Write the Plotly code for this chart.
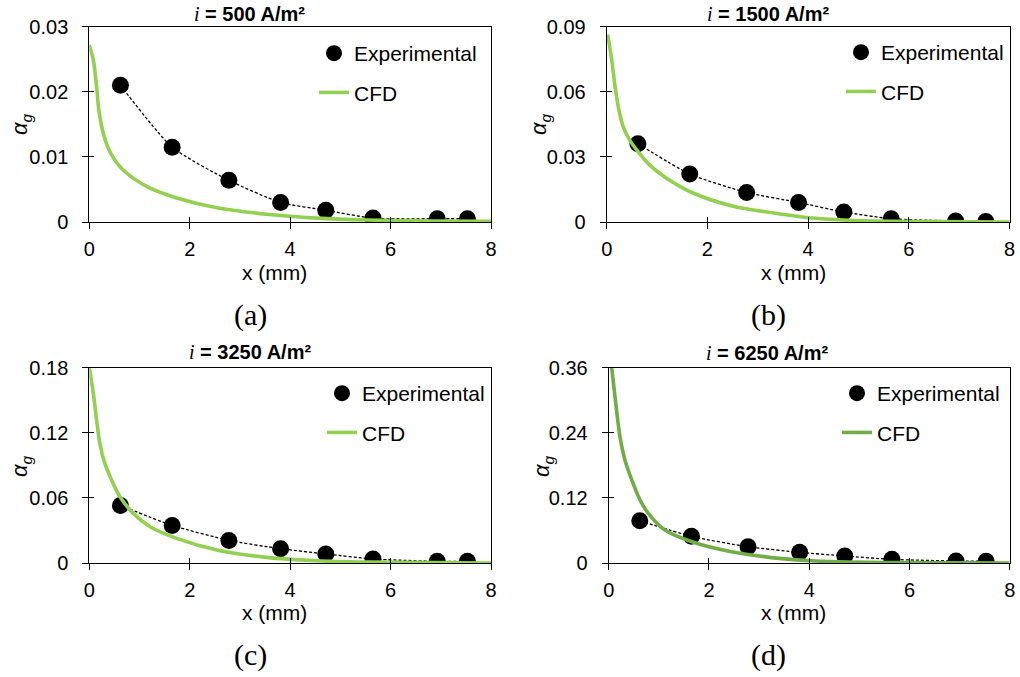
import plotly.graph_objects as go

W, H = 1020, 677

# ---------------- data ----------------
titles = ["500", "1500", "3250", "6250"]
panel_labels = ["(a)", "(b)", "(c)", "(d)"]

x_exp = [0.62, 1.65, 2.78, 3.81, 4.71, 5.65, 6.93, 7.53]
exp_a = [0.0210, 0.0115, 0.0064, 0.0030, 0.0018, 0.0006, 0.0005, 0.0005]
exp_b = [0.0361, 0.0221, 0.0136, 0.0090, 0.0046, 0.0015, 0.0005, 0.0002]
exp_c = [0.0530, 0.0346, 0.0208, 0.0132, 0.0083, 0.0037, 0.0015, 0.0015]
exp_d = [0.0779, 0.0491, 0.0300, 0.0196, 0.0129, 0.0067, 0.0037, 0.0031]

x_cfd_a = [0.0, 0.08, 0.146, 0.19, 0.28, 0.41, 0.61, 0.88, 1.21, 1.74, 2.54, 3.53, 4.53, 5.52, 6.85, 8.0]
cfd_a = [0.0272, 0.0249, 0.0208, 0.0172, 0.0136, 0.0108, 0.0085, 0.0067, 0.0052, 0.0037, 0.0022, 0.0012, 0.0006, 0.0003, 0.00015, 0.0001]

x_cfd_b = [0.02, 0.10, 0.166, 0.23, 0.33, 0.46, 0.63, 0.83, 1.16, 1.69, 2.49, 3.48, 4.14, 4.80, 5.80, 8.0]
cfd_b = [0.0864, 0.0748, 0.0624, 0.0531, 0.0438, 0.0376, 0.0322, 0.0268, 0.0206, 0.0136, 0.0074, 0.0036, 0.0017, 0.0008, 0.0003, 0.0]

x_cfd_c = [0.0, 0.08, 0.146, 0.21, 0.31, 0.445, 0.61, 0.876, 1.21, 1.74, 2.54, 3.53, 4.53, 5.52, 6.85, 8.0]
cfd_c = [0.180, 0.156, 0.1315, 0.110, 0.0917, 0.0763, 0.061, 0.0457, 0.0334, 0.0227, 0.0120, 0.0052, 0.0021, 0.0009, 0.0003, 0.0]

x_cfd_d = [0.0, 0.03, 0.06, 0.126, 0.226, 0.326, 0.46, 0.625, 0.79, 1.12, 1.66, 2.45, 3.45, 4.12, 4.78, 6.10, 8.0]
cfd_d = [0.42, 0.39, 0.360, 0.306, 0.232, 0.189, 0.153, 0.116, 0.0914, 0.0607, 0.0392, 0.0208, 0.0080, 0.0037, 0.0018, 0.0006, 0.0]

y_max = [0.03, 0.09, 0.18, 0.36]
y_dtick = [0.01, 0.03, 0.06, 0.12]

exp_all = [exp_a, exp_b, exp_c, exp_d]
cfd_x_all = [x_cfd_a, x_cfd_b, x_cfd_c, x_cfd_d]
cfd_all = [cfd_a, cfd_b, cfd_c, cfd_d]
cfd_colors = ["#92D050", "#92D050", "#92D050", "#70AD47"]

# ---------------- layout geometry (pixels) ----------------
x_dom_px = [(89.3, 491.0), (606.7, 1009.5), (89.3, 491.0), (608.7, 1009.7)]
y_dom_px = [(26.7, 222.0), (26.7, 222.0), (367.5, 563.0), (367.5, 563.0)]
title_pos = [(249, 14), (768, 14), (250, 352), (767, 353)]
xlab_pos = [(274, 272), (793, 272), (274, 612), (793, 612)]
ylab_pos = [(21, 124), (540, 124), (21, 466), (543, 466)]
plab_pos = [(250, 315), (768, 315), (250, 655), (768, 655)]
legend_pos = [(314, 33), (841, 32), (322, 373), (837, 373)]


def px_x(v):
    return v / W


def px_y(v):
    return 1 - v / H


fig = go.Figure()
annotations = []
layout = dict(
    width=W, height=H,
    margin=dict(l=0, r=0, t=0, b=0, autoexpand=False),
    paper_bgcolor="white", plot_bgcolor="white",
    font=dict(family="Liberation Sans, Arial, sans-serif", size=20, color="black"),
)

for i in range(4):
    n = i + 1
    xs = "" if n == 1 else str(n)
    xname = "x" + xs
    yname = "y" + xs
    leg = "legend" + ("" if n == 1 else str(n))
    ox = str(n + 4)

    # dashed smooth connector through experimental points
    fig.add_trace(go.Scatter(
        x=x_exp, y=exp_all[i], mode="lines",
        line=dict(color="black", width=1.3, dash="3px,2px", shape="spline", smoothing=0.6),
        showlegend=False, xaxis=xname, yaxis=yname, hoverinfo="skip"))
    fig.add_trace(go.Scatter(
        x=x_exp, y=exp_all[i], mode="markers", name="Experimental",
        marker=dict(color="black", size=17, line=dict(width=0)),
        xaxis=xname, yaxis=yname, legend=leg, legendgroup="exp" + xs))
    fig.add_trace(go.Scatter(
        x=cfd_x_all[i], y=cfd_all[i], mode="lines", name="CFD",
        line=dict(color=cfd_colors[i], width=3.6, shape="spline", smoothing=0.8),
        xaxis=xname, yaxis=yname, legend=leg, legendgroup="cfd" + xs,
        cliponaxis=True))
    # empty trace so the overlay (inner-tick) axes get drawn
    fig.add_trace(go.Scatter(
        x=[None], y=[None], mode="markers", showlegend=False, hoverinfo="skip",
        xaxis="x" + ox, yaxis="y" + ox))

    xd = [px_x(x_dom_px[i][0]), px_x(x_dom_px[i][1])]
    yd = [px_y(y_dom_px[i][1]), px_y(y_dom_px[i][0])]

    layout["xaxis" + xs] = dict(
        domain=xd, anchor=yname, range=[0, 8], dtick=2, tick0=0, automargin=False,
        showgrid=False, zeroline=False, showline=True, linecolor="black", linewidth=1,
        mirror=True, ticks="outside", ticklen=6, tickcolor="black", tickwidth=1,
        tickfont=dict(size=20), ticklabelstandoff=3, fixedrange=True)
    layout["yaxis" + xs] = dict(
        domain=yd, anchor=xname, range=[0, y_max[i]], dtick=y_dtick[i], tick0=0, automargin=False,
        showgrid=False, zeroline=False, showline=True, linecolor="black", linewidth=1,
        mirror=True, ticks="outside", ticklen=6, tickcolor="black", tickwidth=1,
        tickfont=dict(size=20), ticklabelstandoff=10, fixedrange=True)
    # overlay axes giving the inner half of the crossing ticks
    layout["xaxis" + ox] = dict(
        domain=xd, anchor="y" + ox, overlaying=xname, range=[0, 8], dtick=2, tick0=0, automargin=False,
        showgrid=False, zeroline=False, showline=False, showticklabels=False,
        ticks="inside", ticklen=5, tickcolor="black", tickwidth=1, side="bottom", fixedrange=True)
    layout["yaxis" + ox] = dict(
        domain=yd, anchor="x" + ox, overlaying=yname, range=[0, y_max[i]], dtick=y_dtick[i], tick0=0,
        automargin=False,
        showgrid=False, zeroline=False, showline=False, showticklabels=False,
        ticks="inside", ticklen=5, tickcolor="black", tickwidth=1, side="left", fixedrange=True)

    layout[leg] = dict(
        x=px_x(legend_pos[i][0]), y=px_y(legend_pos[i][1]), xanchor="left", yanchor="top",
        bgcolor="rgba(0,0,0,0)", borderwidth=0, font=dict(size=21),
        traceorder="grouped", tracegroupgap=9, itemwidth=30)

    annotations.append(dict(
        x=px_x(title_pos[i][0]), y=px_y(title_pos[i][1]), xref="paper", yref="paper",
        text="<span style='font-family:Liberation Serif'><i>i</i></span><b> = " + titles[i] + " A/m²</b>",
        showarrow=False, font=dict(size=20), xanchor="center", yanchor="middle"))
    annotations.append(dict(
        x=px_x(xlab_pos[i][0]), y=px_y(xlab_pos[i][1]), xref="paper", yref="paper",
        text="x (mm)", showarrow=False, font=dict(size=21), xanchor="center", yanchor="middle"))
    annotations.append(dict(
        x=px_x(ylab_pos[i][0]), y=px_y(ylab_pos[i][1]), xref="paper", yref="paper",
        text="<i>α</i><sub><i>g</i></sub>", showarrow=False, textangle=-90,
        font=dict(size=22), xanchor="center", yanchor="middle"))
    annotations.append(dict(
        x=px_x(plab_pos[i][0]), y=px_y(plab_pos[i][1]), xref="paper", yref="paper",
        text=panel_labels[i], showarrow=False,
        font=dict(family="Liberation Serif, serif", size=30), xanchor="center", yanchor="middle"))

layout["annotations"] = annotations
fig.update_layout(**layout)
fig.write_html("out.html")
